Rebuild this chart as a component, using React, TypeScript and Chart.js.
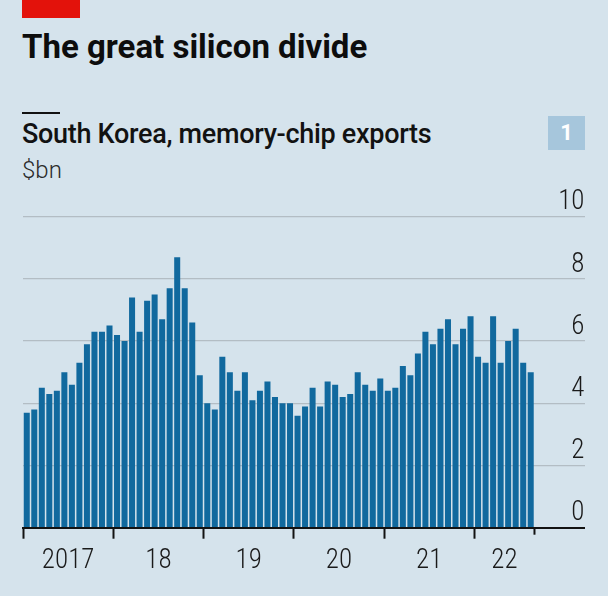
import React, { useEffect, useRef } from 'react';
import { Chart, registerables } from 'chart.js';

Chart.register(...registerables);

// Monthly South Korean memory-chip exports, $bn (Jan 2017 – Aug 2022)
const YEAR_LABELS = ['2017', '18', '19', '20', '21', '22'];
const EXPORTS_2017 = [3.7, 3.8, 4.5, 4.3, 4.4, 5.0, 4.6, 5.3, 5.9, 6.3, 6.3, 6.5];
const EXPORTS_2018 = [6.2, 6.0, 7.4, 6.3, 7.3, 7.5, 6.7, 7.7, 8.7, 7.7, 6.6, 4.9];
const EXPORTS_2019 = [4.0, 3.8, 5.5, 5.0, 4.4, 5.0, 4.1, 4.4, 4.7, 4.2, 4.0, 4.0];
const EXPORTS_2020 = [3.6, 3.9, 4.5, 3.9, 4.7, 4.6, 4.2, 4.3, 5.0, 4.6, 4.4, 4.8];
const EXPORTS_2021 = [4.4, 4.5, 5.2, 4.9, 5.6, 6.3, 5.9, 6.4, 6.7, 5.9, 6.4, 6.8];
const EXPORTS_2022 = [5.5, 5.3, 6.8, 5.3, 6.0, 6.4, 5.3, 5.0];
const SERIES_BY_YEAR = [EXPORTS_2017, EXPORTS_2018, EXPORTS_2019, EXPORTS_2020, EXPORTS_2021, EXPORTS_2022];
const Y_MIN = 0;
const Y_MAX = 10;
const Y_STEP = 2;

const BG = '#d5e3ec';
const BAR = '#11699e';
const INK = '#121212';
const FONT = 'Roboto, "Noto Sans", sans-serif';
const TICK_FONT = '"Roboto Condensed", Roboto, sans-serif';

export default function App() {
  const canvasRef = useRef<HTMLCanvasElement>(null);

  useEffect(() => {
    const canvas = canvasRef.current;
    if (!canvas) return;
    const values = SERIES_BY_YEAR.flat();
    const points = values.map((v, i) => ({ x: i + 0.5, y: v }));
    const total = values.length;
    const boundaries: number[] = [];
    const labelPos: number[] = [];
    let start = 0;
    SERIES_BY_YEAR.forEach((arr) => {
      boundaries.push(start);
      labelPos.push(start + arr.length / 2);
      start += arr.length;
    });
    const labelMap = new Map<number, string>(labelPos.map((p, i) => [p, YEAR_LABELS[i]]));
    const tickValues = [...boundaries, ...labelPos].sort((a, b) => a - b);

    const endTick = {
      id: 'endTick',
      afterDraw(chart: any) {
        const ctx = chart.ctx;
        const px = chart.scales.x.getPixelForValue(total);
        const y0 = chart.chartArea.bottom;
        ctx.save();
        ctx.strokeStyle = INK;
        ctx.lineWidth = 2;
        ctx.beginPath();
        ctx.moveTo(px, y0);
        ctx.lineTo(px, y0 + 7);
        ctx.stroke();
        ctx.restore();
      },
    };

    const chart = new Chart(canvas, {
      type: 'bar',
      data: {
        datasets: [
          {
            data: points as any,
            backgroundColor: BAR,
            borderWidth: 0,
            barPercentage: 0.8,
            categoryPercentage: 1,
          },
        ],
      },
      options: {
        animation: false,
        responsive: false,
        maintainAspectRatio: false,
        devicePixelRatio: 1,
        layout: { padding: { left: 23, right: 23.5, top: 36.7, bottom: 0 } },
        plugins: { legend: { display: false }, tooltip: { enabled: false } },
        scales: {
          x: {
            type: 'linear',
            offset: false,
            min: 0,
            max: 74.65,
            afterFit: (s: any) => {
              s.height = 68.3;
            },
            afterBuildTicks: (s: any) => {
              s.ticks = tickValues.map((v) => ({ value: v }));
            },
            grid: {
              display: true,
              offset: false,
              drawOnChartArea: false,
              drawTicks: true,
              tickLength: 11,
              tickWidth: 2,
              color: 'rgba(0,0,0,0)',
              tickColor: (ctx: any) =>
                ctx.tick && boundaries.includes(ctx.tick.value) ? INK : 'rgba(0,0,0,0)',
            },
            border: { display: true, color: INK, width: 2 },
            ticks: {
              autoSkip: false,
              maxRotation: 0,
              padding: 6,
              color: '#1a1a1a',
              font: { family: TICK_FONT, size: 27, weight: 300 },
              callback: (v: any) => labelMap.get(Number(v)) ?? '',
            },
          },
          y: {
            position: 'right',
            min: Y_MIN,
            max: Y_MAX,
            afterFit: (s: any) => {
              s.width = 0;
            },
            ticks: {
              stepSize: Y_STEP,
              mirror: true,
              padding: 0,
              labelOffset: -14,
              color: '#1a1a1a',
              font: { family: TICK_FONT, size: 27, weight: 300 },
            },
            grid: { color: '#b3bdc4', lineWidth: 1.3, drawTicks: false },
            border: { display: false },
          },
        },
      },
      plugins: [endTick],
    });
    return () => chart.destroy();
  }, []);

  return (
    <div
      style={{
        position: 'absolute',
        left: 0,
        top: 0,
        width: 608,
        height: 596,
        background: BG,
        overflow: 'hidden',
        fontFamily: FONT,
      }}
    >
      <div style={{ position: 'absolute', left: 22, top: 0, width: 58, height: 18, background: '#e3120b' }} />
      <div
        style={{
          position: 'absolute',
          left: 22,
          top: 30,
          fontSize: 33,
          lineHeight: '33px',
          fontWeight: 700,
          color: '#0d0d0d',
          whiteSpace: 'nowrap',
        }}
      >
        The great silicon divide
      </div>
      <div style={{ position: 'absolute', left: 22, top: 112, width: 38, height: 2, background: INK }} />
      <div
        style={{
          position: 'absolute',
          left: 22,
          top: 121,
          fontSize: 27,
          lineHeight: '27px',
          fontWeight: 500,
          letterSpacing: '-0.3px',
          color: INK,
          whiteSpace: 'nowrap',
        }}
      >
        South Korea, memory-chip exports
      </div>
      <div
        style={{
          position: 'absolute',
          left: 22,
          top: 158,
          fontSize: 24,
          lineHeight: '24px',
          fontWeight: 300,
          color: '#2a2a2a',
          whiteSpace: 'nowrap',
        }}
      >
        $bn
      </div>
      <div
        style={{
          position: 'absolute',
          left: 548,
          top: 116,
          width: 37,
          height: 34,
          background: '#a6c6dc',
          color: '#ffffff',
          fontWeight: 700,
          fontSize: 22,
          lineHeight: '34px',
          textAlign: 'center',
        }}
      >
        1
      </div>
      <canvas
        ref={canvasRef}
        width={608}
        height={416}
        style={{ position: 'absolute', left: 0, top: 180, width: 608, height: 416 }}
      />
    </div>
  );
}
